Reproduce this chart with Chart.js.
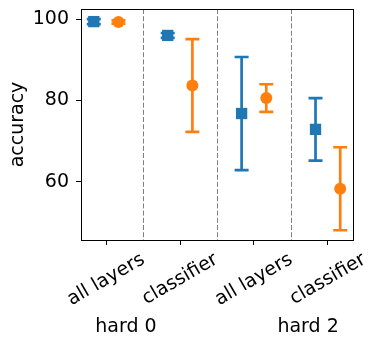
<!DOCTYPE html>
<html>
<head>
<meta charset="utf-8">
<script src="https://cdn.jsdelivr.net/npm/chart.js@4/dist/chart.umd.min.js"></script>
<style>
  body { margin: 0; background: #fff; }
</style>
</head>
<body>
<canvas id="chart" width="379" height="345"></canvas>
<script>
const categories = ["all layers", "classifier", "all layers", "classifier"];
const groups = ["hard 0", "hard 2"];
const yTicks = [60, 80, 100];
const blueMean = [99.4, 96.0, 76.8, 72.9];
const blueErr = [0.6, 0.6, 13.9, 7.7];
const orangeMean = [99.3, 83.7, 80.6, 58.3];
const orangeErr = [0.4, 11.4, 3.4, 10.2];

const BLUE = "#1f77b4";
const ORANGE = "#ff7f0e";
const FONT = "DejaVu Sans";
const FS = 19;
const OFFSET = 0.167;

const errorBars = {
  id: "errorBars",
  beforeDatasetsDraw(chart) {
    const { ctx, chartArea, scales: { x, y } } = chart;
    ctx.save();
    // dashed separators between categories
    ctx.strokeStyle = "#808080";
    ctx.lineWidth = 1;
    ctx.setLineDash([5, 2.2]);
    for (let i = 0; i < categories.length - 1; i++) {
      const px = Math.round(x.getPixelForValue(i + 0.5)) + 0.5;
      ctx.beginPath();
      ctx.moveTo(px, chartArea.top);
      ctx.lineTo(px, chartArea.bottom);
      ctx.stroke();
    }
    ctx.setLineDash([]);
    // error bars
    ctx.lineWidth = 2.7;
    chart.data.datasets.forEach((ds) => {
      ctx.strokeStyle = ds.backgroundColor;
      ds.data.forEach((p, i) => {
        const px = x.getPixelForValue(p.x);
        const top = y.getPixelForValue(p.y + ds.err[i]);
        const bot = y.getPixelForValue(p.y - ds.err[i]);
        ctx.beginPath();
        ctx.moveTo(px, top);
        ctx.lineTo(px, bot);
        ctx.moveTo(px - 7, top);
        ctx.lineTo(px + 7, top);
        ctx.moveTo(px - 7, bot);
        ctx.lineTo(px + 7, bot);
        ctx.stroke();
      });
    });
    ctx.restore();
  },
  afterDraw(chart) {
    const { ctx, chartArea, scales: { x } } = chart;
    ctx.save();
    // frame
    ctx.strokeStyle = "#000";
    ctx.lineWidth = 1;
    ctx.strokeRect(Math.round(chartArea.left) + 0.5, Math.round(chartArea.top) + 0.5,
      Math.round(chartArea.right - chartArea.left), Math.round(chartArea.bottom - chartArea.top));
    // rotated tick labels, centred on each tick
    ctx.font = FS + "px '" + FONT + "'";
    ctx.fillStyle = "#000";
    ctx.textAlign = "center";
    ctx.textBaseline = "middle";
    const ang = Math.PI / 6;
    categories.forEach((label, i) => {
      const w = ctx.measureText(label).width;
      const H = w * Math.sin(ang) + FS * Math.cos(ang);
      const cx = x.getPixelForValue(i);
      const cy = chartArea.bottom + 10 + H / 2;
      ctx.save();
      ctx.translate(cx, cy);
      ctx.rotate(-ang);
      ctx.fillText(label, 0, 0);
      ctx.restore();
    });
    ctx.restore();
  }
};

new Chart(document.getElementById("chart"), {
  type: "scatter",
  data: {
    datasets: [
      {
        label: "blue",
        data: blueMean.map((v, i) => ({ x: i - OFFSET, y: v })),
        err: blueErr,
        backgroundColor: BLUE,
        borderColor: BLUE,
        borderWidth: 0,
        pointStyle: "rect",
        pointRadius: 8,
      },
      {
        label: "orange",
        data: orangeMean.map((v, i) => ({ x: i + OFFSET, y: v })),
        err: orangeErr,
        backgroundColor: ORANGE,
        borderColor: ORANGE,
        borderWidth: 0,
        pointStyle: "circle",
        pointRadius: 6,
      },
    ],
  },
  options: {
    responsive: false,
    animation: false,
    devicePixelRatio: 1,
    layout: { padding: { top: 9, right: 26, left: 0, bottom: 0 } },
    plugins: { legend: { display: false }, tooltip: { enabled: false } },
    scales: {
      x: {
        type: "linear",
        min: -0.34,
        max: 3.34,
        afterBuildTicks: (s) => { s.ticks = categories.map((_, i) => ({ value: i })); },
        afterFit: (s) => { s.height = 105; s.paddingLeft = 0; s.paddingRight = 0; },
        ticks: { display: false },
        grid: { drawOnChartArea: false, drawTicks: true, tickLength: 5, color: "#000" },
        border: { display: true, color: "#000", width: 1 },
        title: {
          display: true,
          text: groups[0] + " ".repeat(20) + groups[1],
          color: "#000",
          font: { family: FONT, size: FS },
          padding: { top: 0, bottom: 7 },
        },
      },
      y: {
        min: 45.7,
        max: 102.5,
        afterBuildTicks: (s) => { s.ticks = yTicks.map((v) => ({ value: v })); },
        afterFit: (s) => { s.width = 81; s.paddingTop = 0; s.paddingBottom = 0; },
        ticks: { color: "#000", font: { family: FONT, size: FS }, padding: 7 },
        grid: { drawOnChartArea: false, drawTicks: true, tickLength: 5, color: "#000" },
        border: { display: true, color: "#000", width: 1 },
        title: {
          display: true,
          text: "accuracy",
          color: "#000",
          font: { family: FONT, size: FS },
          padding: { top: 7, bottom: 0 },
        },
      },
    },
  },
  plugins: [errorBars],
});
</script>
</body>
</html>
